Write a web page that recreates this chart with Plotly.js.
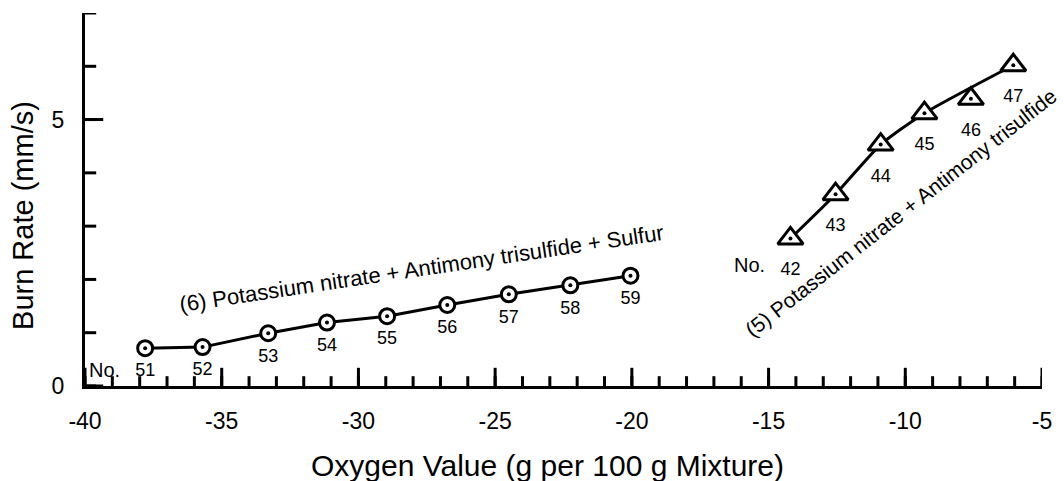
<!DOCTYPE html>
<html>
<head>
<meta charset="utf-8">
<script src="https://cdn.plot.ly/plotly-3.0.1.min.js"></script>
<style>html,body{margin:0;padding:0;background:#fff;}#chart{width:1064px;height:481px;}</style>
</head>
<body>
<div id="chart"></div>
<script>
// Series (6): Potassium nitrate + Antimony trisulfide + Sulfur
var no6 = ["51","52","53","54","55","56","57","58","59"];
var ox6 = [-37.8,-35.7,-33.3,-31.15,-28.95,-26.75,-24.5,-22.25,-20.05];
var br6 = [0.71,0.73,0.99,1.19,1.31,1.52,1.72,1.89,2.07];
// Series (5): Potassium nitrate + Antimony trisulfide
var no5 = ["42","43","44","45","46","47"];
var ox5 = [-14.2,-12.55,-10.9,-9.3,-7.6,-6.05];
var br5 = [2.77,3.6,4.53,5.12,5.39,6.02];
// the fitted curve of series (5) skips sample 46
var fitSkip5 = ["46"];
// axis ticks
var xTickVals = [-40,-35,-30,-25,-20,-15,-10,-5];
var xTickText = ["-40","-35","-30","-25","-20","-15","-10","-5"];
var yTickVals = [0,5];
var yTickText = ["0","5"];
var xMin = -40, xMax = -5, yMin = 0, yMax = 7;
var xTitle = "Oxygen Value (g per 100 g Mixture)";
var yTitle = "Burn Rate (mm/s)";

var fitX5 = ox5.filter(function(v,i){return fitSkip5.indexOf(no5[i]) < 0;});
var fitY5 = br5.filter(function(v,i){return fitSkip5.indexOf(no5[i]) < 0;});

// unit tick positions along each axis
var xUnits = [], yUnits = [];
for (var a = xMin; a <= xMax; a++) xUnits.push(a);
for (var b = yMin; b <= yMax; b++) yUnits.push(b);
function fill(n, v) { var r = []; for (var i = 0; i < n; i++) r.push(v); return r; }

var FONT = "Liberation Sans, Arial, Helvetica, sans-serif";
var black = "#000";
var clear = "rgba(0,0,0,0)";

function tickTrace(xs, ys, sym, size) {
  return {x: xs, y: ys, mode: "markers", hoverinfo: "skip", cliponaxis: true,
          marker: {symbol: sym, size: size, color: black, line: {color: black, width: 3}}};
}

var traces = [
  // inward tick marks (the outer half of each mark is clipped by the plot area)
  tickTrace(xUnits, fill(xUnits.length, yMin), "line-ns", 14),
  tickTrace(xTickVals, fill(xTickVals.length, yMin), "line-ns", 26),
  tickTrace(fill(yUnits.length, xMin), yUnits, "line-ew", 16),
  tickTrace(fill(yTickVals.length, xMin), yTickVals, "line-ew", 26),
  // data
  {x: ox6, y: br6, mode: "lines", line: {color: black, width: 3}, hoverinfo: "skip"},
  {x: fitX5, y: fitY5, mode: "lines", line: {color: black, width: 3, shape: "spline", smoothing: 0.6}, hoverinfo: "skip"},
  {x: ox6, y: br6, mode: "markers", marker: {symbol: "circle", size: 15, color: "#fff", line: {color: black, width: 3}}},
  {x: ox5, y: br5, mode: "markers", marker: {symbol: "triangle-up", size: 22, color: "#fff", line: {color: black, width: 3}}},
  {x: ox6, y: br6, mode: "markers", marker: {symbol: "circle", size: 4, color: black}},
  {x: ox5, y: br5, mode: "markers", marker: {symbol: "circle", size: 4, color: black}},
  // sample number labels (invisible markers set the label offset)
  {x: ox6, y: br6, mode: "markers+text", text: no6, textposition: "bottom center",
   textfont: {family: FONT, size: 18, color: black},
   marker: {size: 22, opacity: 0}},
  {x: ox5, y: br5, mode: "markers+text", text: no5, textposition: "bottom center",
   textfont: {family: FONT, size: 18, color: black},
   marker: {size: 36, opacity: 0}}
];

var layout = {
  width: 1064, height: 481,
  margin: {l: 85, r: 22, t: 13, b: 95},
  paper_bgcolor: "#fff", plot_bgcolor: "#fff",
  showlegend: false,
  font: {family: FONT, color: black},
  xaxis: {
    range: [xMin, xMax], showgrid: false, zeroline: false,
    showline: true, linecolor: black, linewidth: 3,
    tickmode: "array", tickvals: xTickVals, ticktext: xTickText,
    ticks: "outside", ticklen: 12, tickwidth: 1, tickcolor: clear,
    tickfont: {family: FONT, size: 23, color: black}
  },
  yaxis: {
    range: [yMin, yMax], showgrid: false, zeroline: false,
    showline: true, linecolor: black, linewidth: 3,
    tickmode: "array", tickvals: yTickVals, ticktext: yTickText,
    ticks: "outside", ticklen: 13, tickwidth: 1, tickcolor: clear,
    tickfont: {family: FONT, size: 23, color: black}
  },
  annotations: [
    {x: 0.4838, y: -0.212, xref: "paper", yref: "paper", text: xTitle, showarrow: false,
     xanchor: "center", yanchor: "middle", font: {family: FONT, size: 30, color: black}},
    {x: -0.065, y: 0.458, xref: "paper", yref: "paper", text: yTitle, showarrow: false, textangle: -90,
     xanchor: "center", yanchor: "middle", font: {family: FONT, size: 29, color: black}},
    {x: -27.7, y: 2.2, xref: "x", yref: "y", text: "(6) Potassium nitrate + Antimony trisulfide + Sulfur",
     showarrow: false, textangle: -8.5, font: {family: FONT, size: 22, color: black}},
    {x: -10.15, y: 3.25, xref: "x", yref: "y", text: "(5) Potassium nitrate + Antimony trisulfide",
     showarrow: false, textangle: -38, font: {family: FONT, size: 21, color: black}},
    {x: -39.27, y: 0.30, xref: "x", yref: "y", text: "No.", showarrow: false,
     font: {family: FONT, size: 20, color: black}},
    {x: -15.68, y: 2.28, xref: "x", yref: "y", text: "No.", showarrow: false,
     font: {family: FONT, size: 20, color: black}}
  ]
};

Plotly.newPlot("chart", traces, layout, {displayModeBar: false, staticPlot: true});
</script>
</body>
</html>
